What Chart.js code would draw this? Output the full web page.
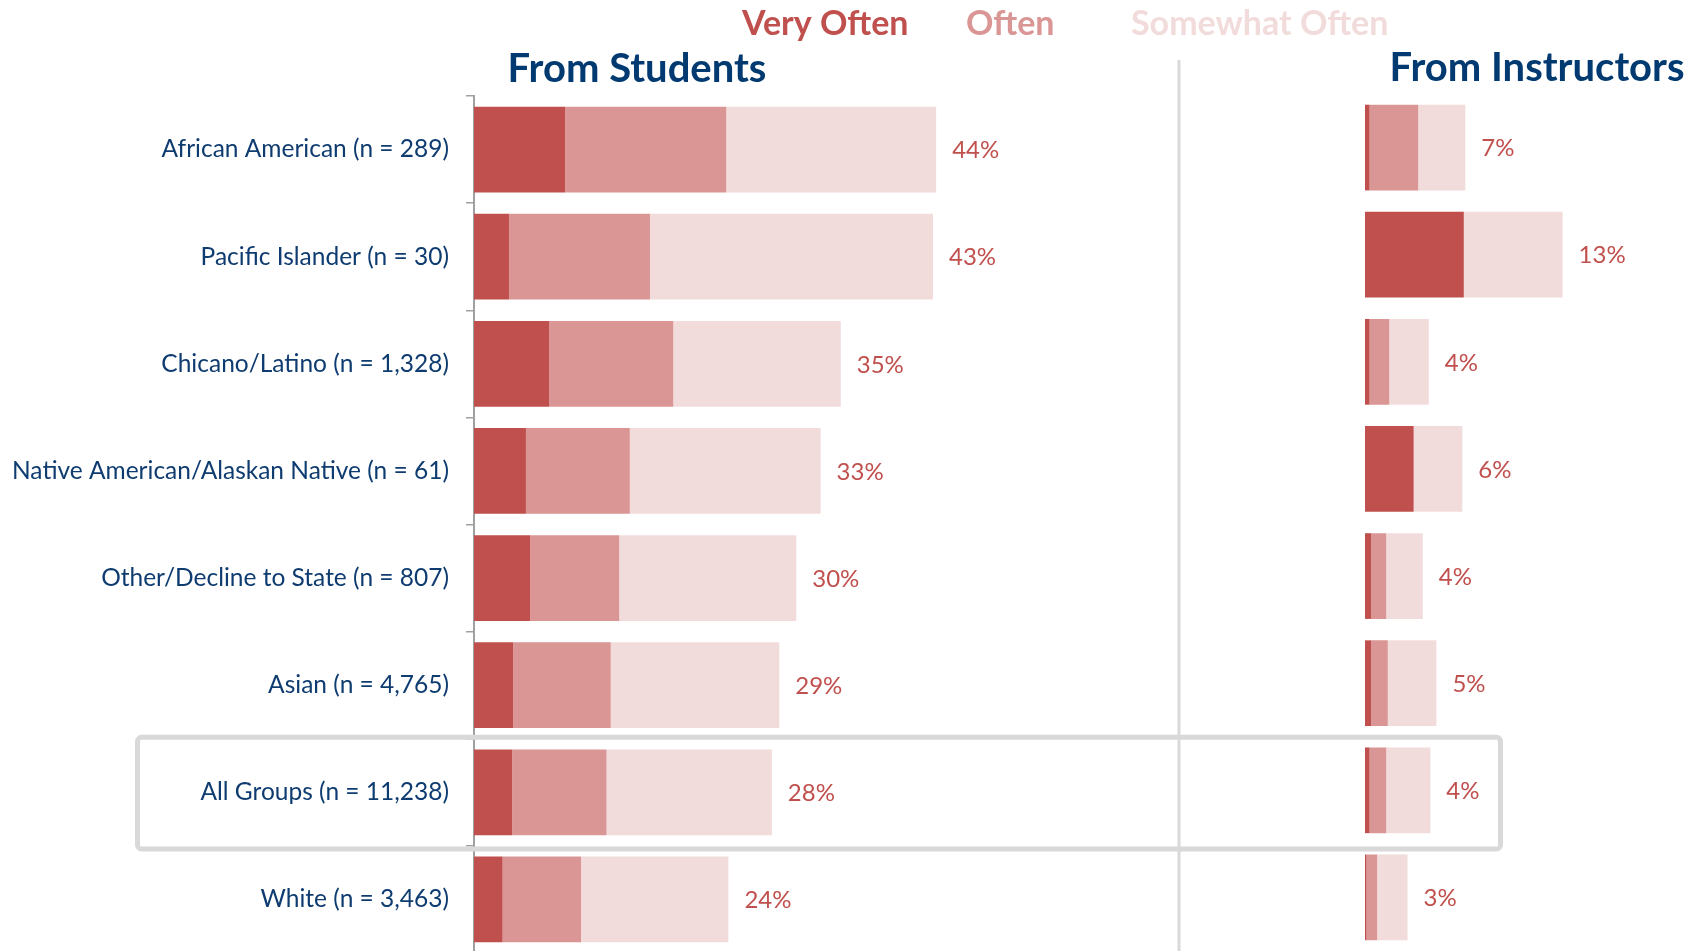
<!DOCTYPE html>
<html lang="en">
<head>
    <meta charset="UTF-8">
    <title>Frequency by Group</title>
    <script src="https://cdn.jsdelivr.net/npm/chart.js"></script>
    <style>
        body { margin: 0; background: #fff; overflow: hidden; }
        #wrap { position: relative; width: 1700px; height: 951px; overflow: hidden; }
        #chartStudents { position: absolute; left: 0; top: 0; }
        #chartInstructors { position: absolute; left: 1180px; top: 0; }
    </style>
</head>
<body>
<div id="wrap">
    <canvas id="chartStudents" width="1700" height="957"></canvas>
    <canvas id="chartInstructors" width="520" height="957"></canvas>
</div>

<script>
    // groups, top to bottom
    const categories = [
        'African American (n = 289)',
        'Pacific Islander (n = 30)',
        'Chicano/Latino (n = 1,328)',
        'Native American/Alaskan Native (n = 61)',
        'Other/Decline to State (n = 807)',
        'Asian (n = 4,765)',
        'All Groups (n = 11,238)',
        'White (n = 3,463)'
    ];
    const seriesNames = ['Very Often', 'Often', 'Somewhat Often'];
    const seriesColors = ['#C0504D', '#D99694', '#F2DCDB'];
    const panelTitles = ['From Students', 'From Instructors'];
    const highlightGroup = 'All Groups (n = 11,238)';

    // percent of respondents, from students
    const studentsVeryOften = [8.6, 3.3, 7.1, 4.9, 5.3, 3.7, 3.6, 2.7];
    const studentsOften     = [15.2, 13.3, 11.7, 9.8, 8.4, 9.2, 8.9, 7.4];
    const studentsSomewhat  = [19.8, 26.7, 15.8, 18.0, 16.7, 15.9, 15.6, 13.9];

    // percent of respondents, from instructors
    const instructorsVeryOften = [0.3, 6.5, 0.3, 3.2, 0.4, 0.4, 0.3, 0.1];
    const instructorsOften     = [3.2, 0, 1.3, 0, 1.0, 1.1, 1.1, 0.7];
    const instructorsSomewhat  = [3.1, 6.5, 2.6, 3.2, 2.4, 3.2, 2.9, 2.0];

    const FONT = 'Lato, "Open Sans", sans-serif';
    const LABEL_BLUE = '#0F3C70';
    const TITLE_BLUE = '#003A70';

    function makeDatasets(series) {
        return series.map((data, k) => ({
            label: seriesNames[k],
            data: data,
            backgroundColor: seriesColors[k],
            borderWidth: 0,
            barPercentage: 0.8,
            categoryPercentage: 1
        }));
    }

    // total percentage written after each stacked bar
    const totalsPlugin = {
        id: 'totals',
        afterDatasetsDraw(chart) {
            const { ctx, scales: { x, y } } = chart;
            ctx.save();
            ctx.font = '24px ' + FONT;
            ctx.fillStyle = '#C0504D';
            ctx.textAlign = 'left';
            ctx.textBaseline = 'middle';
            chart.data.labels.forEach((_, i) => {
                const total = chart.data.datasets.reduce((s, ds) => s + ds.data[i], 0);
                ctx.fillText(Math.round(total) + '%', x.getPixelForValue(total) + 16, y.getPixelForValue(i) + 1);
            });
            ctx.restore();
        }
    };

    // panel heading above the bars
    const panelTitlePlugin = {
        id: 'panelTitle',
        afterDraw(chart, args, opts) {
            const ctx = chart.ctx;
            ctx.save();
            ctx.font = 'bold 40px ' + FONT;
            ctx.fillStyle = TITLE_BLUE;
            ctx.textAlign = 'center';
            ctx.textBaseline = 'alphabetic';
            ctx.fillText(opts.text, opts.x, opts.y);
            ctx.restore();
        }
    };

    // shared legend (coloured words only), divider and the box around the overall row
    const decorPlugin = {
        id: 'decor',
        beforeDatasetsDraw(chart) {
            const ctx = chart.ctx;
            ctx.save();
            ctx.strokeStyle = '#D9D9D9';
            ctx.lineWidth = 3;
            ctx.beginPath();
            ctx.moveTo(1179, 60);
            ctx.lineTo(1179, chart.height);
            ctx.stroke();
            ctx.restore();
        },
        afterDraw(chart) {
            const { ctx, scales: { y } } = chart;
            ctx.save();
            ctx.font = 'bold 34px ' + FONT;
            ctx.textAlign = 'left';
            ctx.textBaseline = 'alphabetic';
            const legendX = [742, 966, 1131];
            chart.data.datasets.forEach((ds, k) => {
                ctx.fillStyle = ds.backgroundColor;
                ctx.fillText(ds.label, legendX[k], 35);
            });

            const idx = chart.data.labels.indexOf(highlightGroup);
            const half = (y.getPixelForValue(1) - y.getPixelForValue(0)) / 2;
            const cy = y.getPixelForValue(idx);
            const top = cy - half - 1.5;
            const bottom = cy + half + 3;
            ctx.strokeStyle = '#D9D9D9';
            ctx.lineWidth = 5;
            ctx.beginPath();
            ctx.roundRect(137.5, top, 1500.5 - 137.5, bottom - top, 4);
            ctx.stroke();
            ctx.restore();
        }
    };

    new Chart(document.getElementById('chartStudents'), {
        type: 'bar',
        data: {
            labels: categories,
            datasets: makeDatasets([studentsVeryOften, studentsOften, studentsSomewhat])
        },
        options: {
            indexAxis: 'y',
            responsive: false,
            animation: false,
            devicePixelRatio: 1,
            layout: { padding: { left: 0, right: 590, top: 96, bottom: 4 } },
            scales: {
                x: { stacked: true, display: false, min: 0, max: 60 },
                y: {
                    stacked: true,
                    afterFit(scale) {
                        scale.width = 474;
                        scale.paddingTop = 0;
                        scale.paddingBottom = 0;
                    },
                    grid: {
                        display: true,
                        drawOnChartArea: false,
                        offset: true,
                        tickLength: 8,
                        color: '#A0A0A0',
                        lineWidth: 1.5
                    },
                    border: { display: true, color: '#A0A0A0', width: 2 },
                    ticks: {
                        padding: 17,
                        color: LABEL_BLUE,
                        font: { family: FONT, size: 24.5 }
                    }
                }
            },
            plugins: {
                legend: { display: false },
                tooltip: { enabled: false },
                panelTitle: { text: panelTitles[0], x: 637, y: 82 }
            }
        },
        plugins: [decorPlugin, totalsPlugin, panelTitlePlugin]
    });

    new Chart(document.getElementById('chartInstructors'), {
        type: 'bar',
        data: {
            labels: categories,
            datasets: makeDatasets([instructorsVeryOften, instructorsOften, instructorsSomewhat])
        },
        options: {
            indexAxis: 'y',
            responsive: false,
            animation: false,
            devicePixelRatio: 1,
            layout: { padding: { left: 185, right: 31, top: 94, bottom: 6 } },
            scales: {
                x: { stacked: true, display: false, min: 0, max: 20 },
                y: { stacked: true, display: false }
            },
            plugins: {
                legend: { display: false },
                tooltip: { enabled: false },
                panelTitle: { text: panelTitles[1], x: 357, y: 81 }
            }
        },
        plugins: [totalsPlugin, panelTitlePlugin]
    });
</script>
</body>
</html>
